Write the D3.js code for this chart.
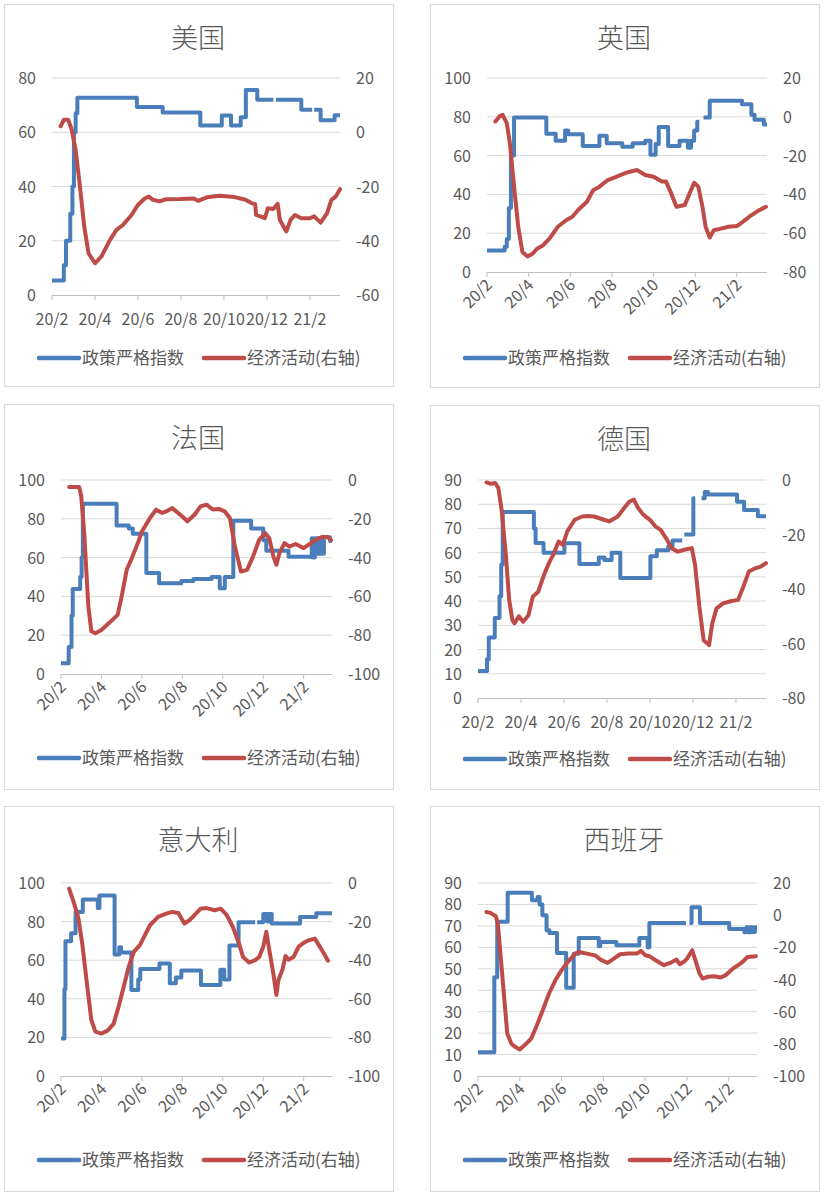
<!DOCTYPE html>
<html><head><meta charset="utf-8">
<script src="https://cdn.jsdelivr.net/npm/d3@7"></script>
<style>body{margin:0;background:#fff}svg{display:block}</style>
</head><body>
<svg id="c" width="825" height="1196"></svg>
<script>
// x values: months since 2020-02-01
const xTickVals = [0,2,4,6,8,10,12];
const xTickLabels = ["20/2","20/4","20/6","20/8","20/10","20/12","21/2"];
const seriesNames = ["政策严格指数","经济活动(右轴)"];
const titles = ["美国","英国","法国","德国","意大利","西班牙"];

// policy stringency index (step: value holds from t until next t)
const usPolicy = [[0,5.3],[0.55,11],[0.65,20],[0.85,30],[0.95,40],[1.02,60],[1.1,67],[1.18,72.7],[3.95,69.3],[5.15,67.3],[6.9,62.5],[7.9,66.2],[8.33,62.5],[8.78,65.5],[9.02,75.6],[9.55,72],[10.3,72],[10.3,null],[10.42,72],[11.6,68.3],[12.1,68.3],[12.1,null],[12.2,68.3],[12.5,64.4],[13.15,66.3],[13.4,66.3]];
const usEcon = [[0.4,2.2],[0.55,4.6],[0.75,4.6],[0.9,1.5],[1.1,-6.5],[1.3,-20],[1.5,-34.8],[1.7,-44.6],[2.0,-48.3],[2.3,-45.8],[2.7,-39.7],[3.0,-36],[3.3,-34.2],[3.7,-30.5],[4.0,-26.8],[4.3,-24.5],[4.5,-23.7],[4.7,-24.9],[5.0,-25.5],[5.3,-24.7],[6.0,-24.6],[6.6,-24.4],[6.8,-25.3],[7.2,-24],[7.8,-23.4],[8.5,-23.9],[9.0,-24.9],[9.3,-26.2],[9.45,-26.5],[9.5,-30.5],[9.9,-31.7],[10.05,-28],[10.3,-28.3],[10.5,-26.4],[10.6,-32.3],[10.9,-36.6],[11.1,-32.3],[11.3,-30.5],[11.6,-31.7],[12.0,-31.7],[12.2,-31],[12.5,-33.3],[12.8,-29.8],[13.0,-24.9],[13.2,-23.7],[13.4,-21]];

const ukPolicy = [[0,11.1],[0.85,13],[0.95,17],[1.05,33],[1.15,60],[1.3,79.6],[2.85,71.3],[3.3,67.6],[3.75,72.9],[3.9,71],[4.6,65],[5.4,70.2],[5.75,66.4],[6.5,64.6],[7.0,66.4],[7.6,67.6],[7.85,60.5],[8.1,66],[8.25,74.8],[8.7,65],[9.25,67.6],[9.65,64],[9.8,67.6],[9.95,73],[10.1,77.5],[10.2,77.5],[10.2,null],[10.4,79.6],[10.7,88.3],[12.25,86.5],[12.7,81],[12.85,78.5],[13.3,76],[13.45,76]];
const ukEcon = [[0.4,-2.4],[0.6,0.2],[0.75,1],[0.95,-3.3],[1.1,-13.6],[1.3,-36],[1.5,-56.7],[1.7,-69.7],[1.95,-72],[2.2,-70.5],[2.4,-68],[2.7,-66.2],[3.0,-62.8],[3.4,-56.7],[3.8,-53.3],[4.1,-51.5],[4.4,-47.8],[4.8,-43.8],[5.1,-37.8],[5.4,-36],[5.8,-32.6],[6.2,-31],[6.7,-28.8],[7.2,-27.4],[7.6,-30],[8.0,-30.9],[8.4,-33.4],[8.6,-33.4],[8.85,-39.5],[9.1,-46.4],[9.5,-45.5],[9.7,-40.3],[9.95,-34],[10.15,-36],[10.35,-46.4],[10.5,-56.7],[10.7,-62.2],[10.9,-58.4],[11.1,-58],[11.6,-56.7],[12.0,-56.3],[12.3,-54],[12.6,-51.5],[13.0,-48.6],[13.4,-46.4]];

const frPolicy = [[0,5.6],[0.38,13.9],[0.52,30],[0.58,43.8],[0.95,50],[1.02,60],[1.08,87.8],[2.75,76.6],[3.35,75],[3.55,72.3],[4.22,52],[4.85,46.8],[5.95,48],[6.55,49],[7.45,50],[7.85,44.2],[8.1,50],[8.52,79],[9.4,75],[10.0,69],[10.15,63.5],[11.25,60.5],[12.4,70],[12.45,60],[12.55,70],[12.62,62],[12.7,70],[12.77,62],[12.85,70],[12.92,62],[13.0,70.5],[13.3,68.5],[13.4,68.5]];
const frEcon = [[0.4,-3.6],[0.9,-3.6],[1.0,-8.4],[1.15,-27.4],[1.35,-65],[1.5,-78],[1.7,-79],[2.0,-77.3],[2.4,-73.5],[2.8,-69.5],[3.0,-60],[3.25,-46.3],[3.5,-40.3],[3.8,-32.5],[4.0,-26.5],[4.4,-19.6],[4.7,-15.3],[5.0,-17],[5.2,-16.2],[5.5,-14.5],[6.0,-18.8],[6.25,-21.3],[6.6,-17.9],[6.9,-13.6],[7.2,-12.7],[7.5,-15.2],[7.8,-14.9],[8.1,-16.2],[8.35,-19.6],[8.6,-34.3],[8.9,-47.2],[9.2,-46.3],[9.5,-39.4],[9.8,-30.8],[10.1,-27.4],[10.3,-30],[10.5,-39.4],[10.65,-43.7],[10.8,-37.7],[11.05,-32.5],[11.3,-34.3],[11.6,-33],[12.0,-35.1],[12.3,-33],[12.6,-30.8],[12.9,-29.4],[13.2,-29.4],[13.35,-31.1]];

const dePolicy = [[0,11.1],[0.42,16],[0.5,25],[0.78,33],[1.0,42],[1.08,55],[1.15,76.8],[2.6,70],[2.68,64],[3.05,60],[4.02,63.9],[4.72,55.3],[5.62,58],[5.88,57],[6.22,60],[6.62,49.5],[8.02,58.5],[8.32,61],[8.85,62.5],[9.05,65],[9.5,65],[9.5,null],[9.6,67.5],[10.02,82.5],[10.1,82.5],[10.1,null],[10.4,82.5],[10.55,85],[10.7,84],[12.05,81],[12.38,77.6],[13.02,75],[13.4,75]];
const deEcon = [[0.4,-0.9],[0.6,-1.4],[0.8,-1.1],[0.95,-3],[1.1,-11],[1.3,-28],[1.45,-44],[1.6,-51.4],[1.7,-52.6],[1.9,-50],[2.1,-52],[2.35,-49.6],[2.55,-42.8],[2.8,-41],[3.1,-34.2],[3.3,-30.5],[3.5,-27.5],[3.75,-22.6],[3.95,-23.8],[4.15,-18.9],[4.5,-14.6],[4.85,-13.4],[5.1,-13.2],[5.4,-13.4],[5.8,-14.4],[6.1,-15.2],[6.5,-13.4],[6.8,-10.3],[7.05,-7.9],[7.25,-7.2],[7.45,-10.3],[7.7,-12.8],[8.0,-14.6],[8.25,-17],[8.5,-18.3],[8.8,-22],[9.0,-25],[9.3,-26.3],[9.6,-25.6],[9.95,-25],[10.1,-31.2],[10.3,-46.5],[10.5,-58.8],[10.75,-60.6],[10.9,-52.6],[11.1,-47.1],[11.4,-45.3],[11.8,-44.4],[12.1,-44],[12.35,-39.1],[12.6,-33.6],[12.9,-32.4],[13.15,-31.8],[13.4,-30.5]];

const itPolicy = [[0,19.4],[0.17,45],[0.22,69.8],[0.5,74],[0.72,85],[1.08,91.5],[1.82,87],[1.9,93.5],[2.65,63],[2.88,66.7],[2.97,64],[3.48,44.5],[3.82,50],[3.92,55.5],[4.87,58.3],[5.38,48],[5.68,51],[5.95,54.6],[6.92,47.2],[7.88,55],[8.07,50],[8.33,67.6],[8.78,79.6],[9.6,79.6],[9.6,null],[9.7,79.6],[10.0,84],[10.2,80],[10.3,84],[10.42,79],[11.82,82.4],[12.62,84.3],[13.4,84.3]];
const itEcon = [[0.4,-2.9],[0.6,-9],[0.85,-17.6],[1.05,-31.4],[1.3,-53.8],[1.5,-71],[1.7,-77],[2.0,-78],[2.3,-76.5],[2.6,-73],[2.85,-64],[3.1,-53.8],[3.35,-43.4],[3.6,-35.7],[3.9,-32.2],[4.1,-28],[4.4,-21.9],[4.8,-17.6],[5.2,-15.9],[5.5,-15],[5.8,-15.5],[6.1,-21],[6.35,-19.3],[6.6,-16.7],[6.9,-13.3],[7.2,-13],[7.6,-14.1],[7.9,-13.3],[8.2,-16.7],[8.5,-22.8],[8.8,-31.4],[9.0,-38.3],[9.3,-41.2],[9.6,-40],[9.8,-38.3],[10.0,-33],[10.15,-25.3],[10.3,-34.7],[10.5,-47],[10.65,-58],[10.75,-50.3],[10.95,-45],[11.1,-37.8],[11.25,-39.7],[11.5,-38.3],[11.75,-33],[12.0,-31],[12.25,-29.7],[12.55,-28.8],[12.75,-32.2],[13.0,-36.5],[13.2,-40.3]];

const esPolicy = [[0,11.1],[0.78,46],[0.92,71.9],[1.42,85.4],[2.58,82],[2.85,83.5],[2.95,80],[3.08,75],[3.28,68],[3.42,66.7],[3.78,57.4],[4.22,41.2],[4.58,57],[4.82,64.3],[5.78,60.5],[5.85,62.5],[6.62,61],[7.72,64.3],[8.12,60],[8.2,71.3],[9.95,71.3],[9.95,null],[10.12,71.3],[10.22,78.7],[10.62,71.3],[12.02,68.5],[12.75,67],[12.85,69.4],[12.95,67],[13.05,69.4],[13.15,67.2],[13.25,69.4],[13.35,69.4]];
const esEcon = [[0.4,2],[0.6,1.4],[0.85,-0.7],[0.95,-5.3],[1.1,-28],[1.25,-50.8],[1.4,-73.6],[1.6,-80],[1.8,-82],[2.0,-83.5],[2.3,-80],[2.55,-76.7],[2.85,-67.4],[3.1,-59],[3.4,-48.7],[3.7,-40.5],[4.0,-34.2],[4.3,-29],[4.65,-23.9],[4.85,-22.9],[5.2,-23.9],[5.6,-25],[5.9,-28],[6.2,-29.7],[6.5,-27],[6.8,-24.3],[7.2,-23.9],[7.6,-23.9],[7.8,-22.2],[8.0,-24.9],[8.2,-25.5],[8.5,-28],[8.9,-31.1],[9.2,-29.7],[9.5,-27.6],[9.65,-30.5],[9.85,-29],[10.0,-27],[10.25,-21.8],[10.4,-28],[10.6,-36.3],[10.75,-39.4],[11.0,-38.3],[11.3,-38],[11.6,-38.8],[11.85,-37.3],[12.2,-33.2],[12.6,-29.7],[12.9,-26],[13.3,-25.5]];

const policyData = [usPolicy, ukPolicy, frPolicy, dePolicy, itPolicy, esPolicy];
const econData = [usEcon, ukEcon, frEcon, deEcon, itEcon, esEcon];
const leftDomains = [[0,80],[0,100],[0,100],[0,90],[0,100],[0,90]];
const leftSteps = [20,20,20,10,20,10];
const rightDomains = [[-60,20],[-80,20],[-100,0],[-80,0],[-100,0],[-100,20]];
const rightSteps = [20,20,20,20,20,20];

// layout
const layouts = [
 {box:[4,4,389,382], p:[52,340,78,295], rot:false, tx:198},
 {box:[430,4,389,383], p:[487,767,78,272], rot:true, tx:624},
 {box:[4,404,389,385], p:[61,332,480,674], rot:true, tx:198},
 {box:[430,405,389,384], p:[478,766,480,698], rot:false, tx:624},
 {box:[4,806,389,385], p:[61,332,883,1076], rot:true, tx:198},
 {box:[430,806,389,385], p:[478,757,883,1076], rot:true, tx:624}
];
const xEnds = [13.4,13.45,13.4,13.4,13.4,13.35];
const gray = "#595959", blue = "#4a7ebb", red = "#be4b48";
const font = "'Noto Sans CJK SC','Noto Sans',sans-serif";
const svg = d3.select("#c");

layouts.forEach((L,i)=>{
  const g = svg.append("g");
  const [bx,by,bw,bh] = L.box;
  g.append("rect").attr("x",bx+0.5).attr("y",by+0.5).attr("width",bw).attr("height",bh)
    .attr("fill","#fff").attr("stroke","#d9d9d9");
  const [l,r,t,b] = L.p;
  const x = d3.scaleLinear().domain([0,xEnds[i]]).range([l,r]);
  const yl = d3.scaleLinear().domain(leftDomains[i]).range([b,t]);
  const yr = d3.scaleLinear().domain(rightDomains[i]).range([b,t]);
  g.append("text").attr("x",L.tx).attr("y",by+44).attr("text-anchor","middle")
    .attr("font-family",font).attr("font-size",27).attr("font-weight",300).attr("fill",gray).text(titles[i]);
  const lt = d3.range(leftDomains[i][0], leftDomains[i][1]+0.001, leftSteps[i]);
  const rt = d3.range(rightDomains[i][0], rightDomains[i][1]+0.001, rightSteps[i]);
  g.selectAll(".gl").data(lt.slice(1)).join("line")
    .attr("x1",l).attr("x2",r).attr("y1",d=>yl(d)).attr("y2",d=>yl(d))
    .attr("stroke","#d9d9d9").attr("stroke-width",1);
  g.selectAll(".lt").data(lt).join("text").attr("x",l-16).attr("y",d=>yl(d)+6)
    .attr("text-anchor","end").attr("font-family",font).attr("font-size",16).attr("fill",gray).text(d=>d);
  g.selectAll(".rt").data(rt).join("text").attr("x",r+16).attr("y",d=>yr(d)+6)
    .attr("text-anchor","start").attr("font-family",font).attr("font-size",16).attr("fill",gray).text(d=>d);
  // x axis
  g.append("line").attr("x1",l).attr("x2",r).attr("y1",b+0.5).attr("y2",b+0.5).attr("stroke","#bfbfbf");
  g.selectAll(".xt").data(xTickVals).join("line").attr("x1",d=>x(d)).attr("x2",d=>x(d))
    .attr("y1",b).attr("y2",b+5).attr("stroke","#bfbfbf");
  xTickVals.forEach((v,k)=>{
    const tx = g.append("text").attr("font-family",font).attr("font-size",16).attr("fill",gray).text(xTickLabels[k]);
    if (L.rot) {
      tx.attr("text-anchor","end").attr("transform",`translate(${x(v)+6},${b+14}) rotate(-45)`);
    } else {
      tx.attr("text-anchor","middle").attr("x",x(v)).attr("y",b+30);
    }
  });
  const lineP = d3.line().defined(d=>d[1]!==null).x(d=>x(d[0])).y(d=>yl(d[1])).curve(d3.curveStepAfter);
  const lineE = d3.line().x(d=>x(d[0])).y(d=>yr(d[1]));
  g.append("path").attr("d",lineP(policyData[i])).attr("fill","none").attr("stroke",blue)
    .attr("stroke-width",4).attr("stroke-linejoin","round");
  g.append("path").attr("d",lineE(econData[i])).attr("fill","none").attr("stroke",red)
    .attr("stroke-width",4).attr("stroke-linejoin","round").attr("stroke-linecap","round");
  // legend
  const ly = by+354;
  const cols=[blue,red], offs=[35,200];
  seriesNames.forEach((n,k)=>{
    g.append("line").attr("x1",bx+offs[k]).attr("x2",bx+offs[k]+40).attr("y1",ly).attr("y2",ly)
      .attr("stroke",cols[k]).attr("stroke-width",4.5).attr("stroke-linecap","round");
    g.append("text").attr("x",bx+offs[k]+43).attr("y",ly+6).attr("font-family",font)
      .attr("font-size",17).attr("fill",gray).text(n);
  });
});
</script>
</body></html>
